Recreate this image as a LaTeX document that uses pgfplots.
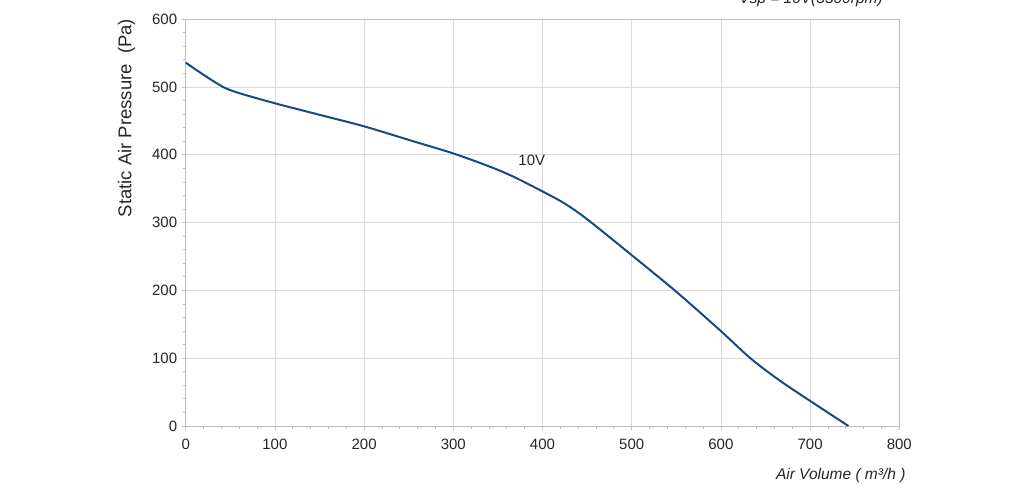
\documentclass[border=0pt]{standalone}
\usepackage{fontspec}
\setmainfont{Liberation Sans}
\usepackage{pgfplots}
\pgfplotsset{compat=1.18}
\definecolor{curveblue}{RGB}{23,73,135}
\definecolor{gridgray}{RGB}{217,217,217}
\definecolor{axisgray}{RGB}{190,190,190}
\begin{document}
\begin{tikzpicture}[x=1pt,y=1pt]
  \path[use as bounding box] (0,0) rectangle (1024,491);
  \begin{axis}[
    at={(185.7pt,65pt)},
    anchor=south west,
    scale only axis,
    width=713.6pt,
    height=406.8pt,
    xmin=0, xmax=800,
    ymin=0, ymax=600,
    xtick={0,100,...,800},
    ytick={0,100,...,600},
    minor x tick num=4,
    minor y tick num=4,
    tick align=outside,
    tick pos=left,
    major tick length=4pt,
    minor tick length=3pt,
    every tick/.style={axisgray, line width=0.8pt},
    axis line style={axisgray, line width=0.8pt},
    xmajorgrids, ymajorgrids,
    grid style={gridgray, line width=0.8pt},
    /pgf/number format/assume math mode=true,
    ticklabel style={font=\fontsize{15}{18}\selectfont, text=black!85},
    xticklabel style={yshift=-5pt},
    yticklabel style={xshift=-1pt},
    ylabel={Static Air Pressure\ \ (Pa)},
    ylabel style={font=\fontsize{18.5}{22}\selectfont, text=black!85,
      at={(rel axis cs:0,0.757)}, anchor=south, yshift=47pt},
    clip=false,
  ]
    \addplot[curveblue, line width=2pt, smooth, tension=0.5] coordinates {
      (0,536) (20,518) (42,500) (60,491) (100,476) (150,459) (200,442)
      (255,420) (300,402) (340,383) (367,368) (400,346) (425,328)
      (450,305) (500,252) (550,198) (600,140) (633,100) (666,67)
      (700,37) (743,0)
    };
    \node[font=\fontsize{15}{18}\selectfont, text=black!85, anchor=base]
      at (axis cs:388,383.5) {10V};
  \end{axis}
  \node[font=\itshape\fontsize{15.5}{18}\selectfont, text=black!85, anchor=base east]
    at (909,12) {Air Volume ( m³/h )};
  \node[font=\itshape\fontsize{15.5}{18}\selectfont, text=black!85, anchor=base]
    at (811,487) {Vsp = 10V(3300rpm)};
\end{tikzpicture}
\end{document}
